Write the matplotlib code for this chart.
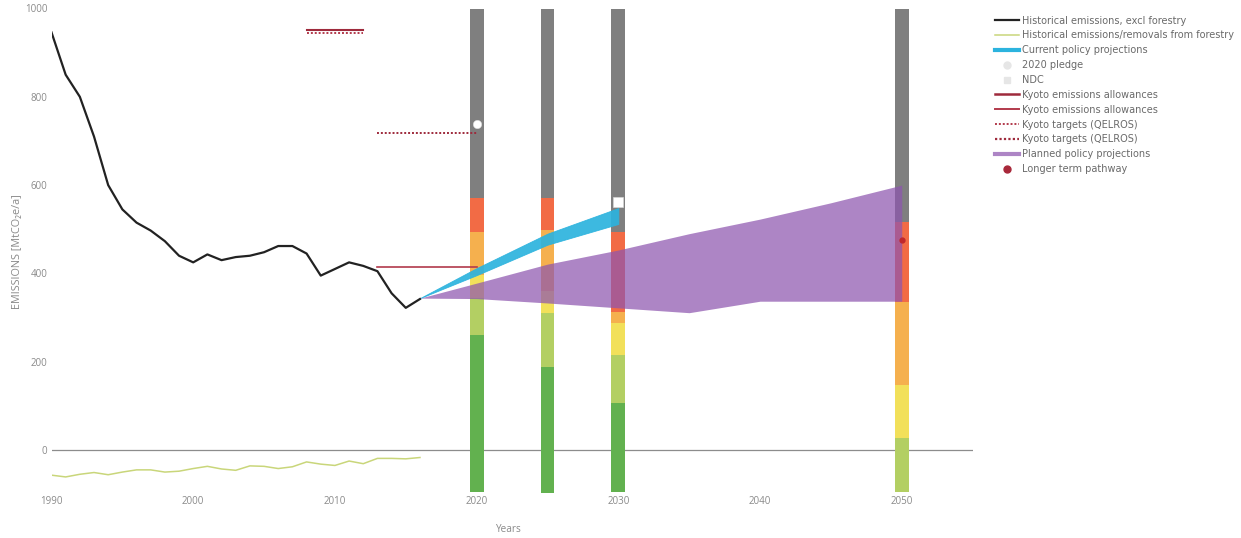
import matplotlib
matplotlib.use("Agg")
import matplotlib.pyplot as plt
from matplotlib.lines import Line2D

plt.rcParams['font.family'] = ['Open Sans', 'DejaVu Sans']

# ---- data -------------------------------------------------------------
hist_years = list(range(1990, 2017))
hist_excl_forestry = [946, 850, 800, 710, 600, 545, 515, 497, 473, 440,
                      425, 443, 430, 437, 440, 448, 462, 462, 445, 395,
                      410, 425, 417, 405, 355, 322, 342]
hist_forestry = [-57, -61, -55, -51, -56, -50, -45, -45, -50, -48,
                 -42, -37, -43, -46, -36, -37, -42, -38, -27, -32,
                 -35, -25, -31, -19, -19, -20, -17]

cpp_years = [2016, 2020, 2025, 2030]
cpp_low = [344, 396, 465, 512]
cpp_high = [344, 412, 490, 548]

ppp_years = [2016, 2020, 2025, 2030, 2035, 2040, 2045, 2050]
ppp_low = [344, 343, 333, 322, 311, 337, 337, 337]
ppp_high = [344, 378, 421, 453, 490, 523, 560, 600]

kyoto_allow_1 = ([2008, 2012], 951)
kyoto_allow_2 = ([2013, 2020], 415)
kyoto_target_1 = ([2008, 2012], 945)
kyoto_target_2 = ([2013, 2020], 717)

pledge_2020 = (2020, 738)
ndc_2030 = (2030, 562)
longer_term = (2050, 475)

# warming-rating bars: segment tops from bottom to top
bar_years = [2020, 2025, 2030, 2050]
bar_bottom = [-95, -97, -94, -95]
green_top = [260, 189, 106, -95]
lightgreen_top = [344, 310, 215, 27]
yellow_top = [396, 360, 288, 147]
lightorange_top = [494, 498, 313, 336]
orange_top = [570, 570, 494, 517]
gray_top = [1010, 1010, 1010, 1010]

seg_tops = [green_top, lightgreen_top, yellow_top, lightorange_top, orange_top, gray_top]
seg_colors = ['#62b14f', '#b3cf63', '#f2e05a', '#f5b04e', '#f26b45', '#7f7f7f']

x_ticks = [1990, 2000, 2010, 2020, 2030, 2040, 2050]
y_ticks = [0, 200, 400, 600, 800, 1000]

# ---- figure -----------------------------------------------------------
W, H = 1241, 538
fig = plt.figure(figsize=(W / 100, H / 100), dpi=100)
ax_l, ax_r = 51.5, 972.6
ax_t, ax_b = 8.5, 494.15
ax = fig.add_axes([ax_l / W, 1 - ax_b / H, (ax_r - ax_l) / W, (ax_b - ax_t) / H])
ax.set_xlim(1990, 2055)
ax.set_ylim(-100, 1000)

for s in ax.spines.values():
    s.set_visible(False)
ax.tick_params(length=0, colors='#8a8a8a', labelsize=7, pad=3)
ax.tick_params(axis='x', pad=1)
ax.set_xticks(x_ticks)
ax.set_yticks(y_ticks)
ax.axhline(0, color='#8c8c8c', lw=0.9, zorder=0.5)

# rating bars
bottoms = list(bar_bottom)
for tops, col in zip(seg_tops, seg_colors):
    heights = [t - b for t, b in zip(tops, bottoms)]
    ax.bar(bar_years, heights, bottom=bottoms, width=0.98, color=col,
           linewidth=0, zorder=1)
    bottoms = list(tops)

# planned policy projections
ax.fill_between(ppp_years, ppp_low, ppp_high, color='#8e56af', alpha=0.72,
                linewidth=0, zorder=2)
# current policy projections
ax.fill_between(cpp_years, cpp_low, cpp_high, color='#2cb3de', alpha=0.92,
                linewidth=0.6, edgecolor='#2cb3de', zorder=3)

# historical series
ax.plot(hist_years, hist_excl_forestry, color='#222222', lw=1.6,
        solid_joinstyle='round', zorder=4)
ax.plot(hist_years, hist_forestry, color='#c9d67a', lw=1.1, zorder=4)

# Kyoto lines
kc1, kc2 = '#9e2a3c', '#b23a4c'
ax.plot(kyoto_allow_1[0], [kyoto_allow_1[1]] * 2, color=kc1, lw=1.5, zorder=4)
ax.plot(kyoto_target_1[0], [kyoto_target_1[1]] * 2, color=kc2, lw=1.4,
        linestyle=(0, (1, 1)), zorder=4)
ax.plot(kyoto_allow_2[0], [kyoto_allow_2[1]] * 2, color=kc2, lw=1.2, zorder=4)
ax.plot(kyoto_target_2[0], [kyoto_target_2[1]] * 2, color=kc1, lw=1.4,
        linestyle=(0, (1, 1)), zorder=4)

# markers
ax.plot(*pledge_2020, 'o', color='white', ms=6, mec='#dddddd', mew=0.4, zorder=5)
ax.plot(*ndc_2030, 's', color='white', ms=6.5, mec='#dddddd', mew=0.4, zorder=5)
ax.plot(*longer_term, 'o', color='#c0282d', ms=3.5, zorder=5)

# axis titles
fig.text(18 / W, 1 - 252 / H, 'EMISSIONS [MtCO\u2082e/a]', rotation=90,
         ha='center', va='center', fontsize=7.8, color='#8a8a8a')
fig.text(508 / W, 1 - 530 / H, 'Years', ha='center', va='center',
         fontsize=7.2, color='#8a8a8a')

# legend
handles = [
    Line2D([], [], color='#222222', lw=1.6),
    Line2D([], [], color='#c9d67a', lw=1.1),
    Line2D([], [], color='#2cb3de', lw=3),
    Line2D([], [], marker='o', color='#e6e6e6', lw=0, ms=5),
    Line2D([], [], marker='s', color='#e6e6e6', lw=0, ms=5),
    Line2D([], [], color=kc1, lw=1.8),
    Line2D([], [], color=kc2, lw=1.4),
    Line2D([], [], color=kc2, lw=1.4, linestyle=(0, (1, 1))),
    Line2D([], [], color=kc1, lw=1.6, linestyle=(0, (1, 1))),
    Line2D([], [], color='#8e56af', lw=3, alpha=0.72),
    Line2D([], [], marker='o', color='#a8283a', lw=0, ms=5),
]
labels = [
    'Historical emissions, excl forestry',
    'Historical emissions/removals from forestry',
    'Current policy projections',
    '2020 pledge',
    'NDC',
    'Kyoto emissions allowances',
    'Kyoto emissions allowances',
    'Kyoto targets (QELROS)',
    'Kyoto targets (QELROS)',
    'Planned policy projections',
    'Longer term pathway',
]
leg = fig.legend(handles, labels, loc='upper left',
                 bbox_to_anchor=(995 / W, 1 - 15.5 / H), frameon=False,
                 prop={'family': 'DejaVu Sans', 'size': 7.0},
                 handlelength=2.5, handletextpad=0.25,
                 labelspacing=0.5, borderpad=0, borderaxespad=0)
for t in leg.get_texts():
    t.set_color('#6a6a6a')

fig.savefig('out.png', dpi=100)
